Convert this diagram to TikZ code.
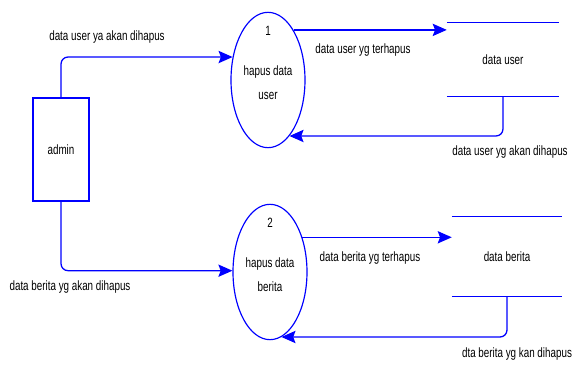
\documentclass[tikz,border=0pt]{standalone}
\usepackage{fontspec}
\setmainfont{Liberation Sans}[FakeStretch=0.73]
\usetikzlibrary{arrows.meta,shapes.geometric}

\begin{document}
\begin{tikzpicture}[x=0.03cm, y=-0.03cm,
        every node/.style={font=\fontsize{11.5}{13}\selectfont, inner sep=0pt},
        entity/.style={draw=blue, line width=1pt, minimum width=1.68cm, minimum height=3.09cm},
        process/.style={ellipse, draw=blue, line width=1pt, minimum width=2.22cm, minimum height=4.06cm},
        ptext/.style={align=center, font=\fontsize{11.5}{21}\selectfont},
        store/.style={blue, line width=1.1pt},
        flow/.style={blue, line width=1.1pt, rounded corners=6pt, -{Stealth[length=12pt, width=10.5pt, inset=2pt]}}]
        \useasboundingbox (0,0) rectangle (574,365);
        \node [entity] (admin) at (61,149.5) {admin};
        \node [process] (p1) at (268,80) {};
        \node (n1) at (268,31) {1};
        \node [ptext] (t1) at (268,82.5) {hapus data\\user};
        \node [process] (p2) at (270,272) {};
        \node (n2) at (270,223) {2};
        \node [ptext] (t2) at (270,274.5) {hapus data\\berita};
        \node [minimum width=3.36cm, minimum height=2.19cm] (ds1) at (503,59.5) {data user};
        \node [minimum width=3.3cm, minimum height=2.37cm] (ds2) at (507,256.5) {data berita};
        \draw [store] (ds1.north west) -- (ds1.north east);
        \draw [store] (ds1.south west) -- (ds1.south east);
        \draw [store] (ds2.north west) -- (ds2.north east);
        \draw [store] (ds2.south west) -- (ds2.south east);
        \draw [flow] (admin.north) |- (p1.147);
        \draw [flow] (p1.63) -- (p1.63 -| ds1.west);
        \draw [flow] (ds1.south) |- (p1.-69);
        \draw [flow] (admin.south) |- (p2.178);
        \draw [flow] (p2.47) -- (p2.47 -| ds2.west);
        \draw [flow] (ds2.south) |- (p2.-80);
        \node (l1) at (107,37) {data user ya akan dihapus};
        \node (l2) at (363,50) {data user yg terhapus};
        \node (l3) at (510,152) {data user yg akan dihapus};
        \node (l4) at (70,287) {data berita yg akan dihapus};
        \node (l5) at (370,258) {data berita yg terhapus};
        \node (l6) at (517,354) {dta berita yg kan dihapus};
    \end{tikzpicture}
\end{document}
